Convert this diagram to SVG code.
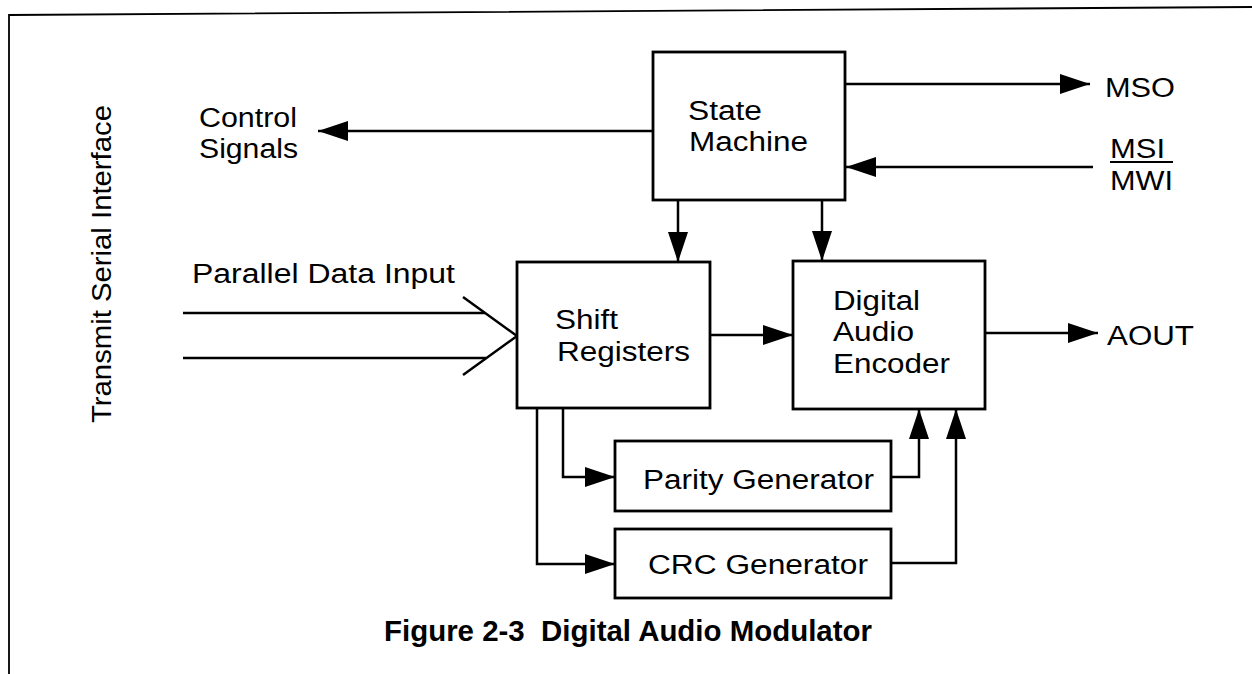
<svg xmlns="http://www.w3.org/2000/svg" width="1252" height="674" viewBox="0 0 1252 674">
  <style>
    .box { fill: #fff; stroke: #000; stroke-width: 2.8; }
    .wire { fill: none; stroke: #000; stroke-width: 2.5; }
    .arrow { marker-end: url(#head); }
    text { font-family: "Liberation Sans", Arial, sans-serif; font-size: 27px; fill: #000; }
    .caption { font-weight: bold; font-size: 30px; }
  </style>
  <defs>
    <marker id="head" markerUnits="userSpaceOnUse" markerWidth="32" markerHeight="20" refX="30" refY="10" orient="auto">
      <path d="M0,0 L30,10 L0,20 z" fill="#000"/>
    </marker>
  </defs>

  <rect width="1252" height="674" fill="#fff"/>

  <!-- page frame -->
  <path d="M9,674 L9,15 L1252,7" fill="none" stroke="#000" stroke-width="1.8"/>

  <!-- side label -->
  <text transform="translate(111,423) rotate(-90)" textLength="318" lengthAdjust="spacingAndGlyphs">Transmit Serial Interface</text>

  <!-- connectors -->
  <g id="connectors">
    <path class="wire arrow" d="M653,131 L318,131"/>
    <path class="wire arrow" d="M845,84 L1090,84"/>
    <path class="wire arrow" d="M1093,167 L846,167"/>
    <path class="wire arrow" d="M678,200 L678,262"/>
    <path class="wire arrow" d="M822,200 L822,261"/>
    <path class="wire arrow" d="M710,335 L793,335"/>
    <path class="wire arrow" d="M985,333 L1098,333"/>
    <path class="wire arrow" d="M563,408 L563,477 L615,477"/>
    <path class="wire arrow" d="M537,408 L537,564 L615,564"/>
    <path class="wire arrow" d="M891,477 L919,477 L919,409"/>
    <path class="wire arrow" d="M891,563 L956,563 L956,409"/>
    <!-- parallel data bus into the shift registers -->
    <path class="wire" d="M183,313 L485,313"/>
    <path class="wire" d="M183,358 L486,358"/>
    <path class="wire" d="M463,297 L517,336 L463,375"/>
  </g>

  <g id="state-machine">
    <rect class="box" x="653" y="52" width="192" height="148"/>
    <text x="688" y="120" textLength="74" lengthAdjust="spacingAndGlyphs">State</text>
    <text x="689" y="151" textLength="119" lengthAdjust="spacingAndGlyphs">Machine</text>
  </g>

  <g id="shift-registers">
    <rect class="box" x="517" y="262" width="193" height="146"/>
    <text x="555" y="329" textLength="63" lengthAdjust="spacingAndGlyphs">Shift</text>
    <text x="557" y="361" textLength="133" lengthAdjust="spacingAndGlyphs">Registers</text>
  </g>

  <g id="digital-audio-encoder">
    <rect class="box" x="793" y="261" width="192" height="148"/>
    <text x="833" y="310" textLength="87" lengthAdjust="spacingAndGlyphs">Digital</text>
    <text x="833" y="341" textLength="81" lengthAdjust="spacingAndGlyphs">Audio</text>
    <text x="833" y="373" textLength="117" lengthAdjust="spacingAndGlyphs">Encoder</text>
  </g>

  <g id="parity-generator">
    <rect class="box" x="615" y="441" width="276" height="70"/>
    <text x="643" y="489" textLength="231" lengthAdjust="spacingAndGlyphs">Parity Generator</text>
  </g>

  <g id="crc-generator">
    <rect class="box" x="615" y="529" width="276" height="69"/>
    <text x="648" y="574" textLength="220" lengthAdjust="spacingAndGlyphs">CRC Generator</text>
  </g>

  <g id="control-signals">
    <text x="199" y="127" textLength="98" lengthAdjust="spacingAndGlyphs">Control</text>
    <text x="199" y="158" textLength="99" lengthAdjust="spacingAndGlyphs">Signals</text>
  </g>

  <g id="parallel-data-input">
    <text x="192" y="283" textLength="263" lengthAdjust="spacingAndGlyphs">Parallel Data Input</text>
  </g>

  <g id="mso">
    <text x="1105" y="97" textLength="70" lengthAdjust="spacingAndGlyphs">MSO</text>
  </g>

  <g id="msi-mwi">
    <text x="1110" y="158" textLength="55" lengthAdjust="spacingAndGlyphs">MSI</text>
    <line x1="1110" y1="162" x2="1173" y2="162" stroke="#000" stroke-width="1.8"/>
    <text x="1110" y="190" textLength="63" lengthAdjust="spacingAndGlyphs">MWI</text>
  </g>

  <g id="aout">
    <text x="1107" y="345" textLength="87" lengthAdjust="spacingAndGlyphs">AOUT</text>
  </g>

  <text class="caption" x="384" y="641" textLength="488" lengthAdjust="spacingAndGlyphs">Figure 2-3&#160; Digital Audio Modulator</text>
</svg>
